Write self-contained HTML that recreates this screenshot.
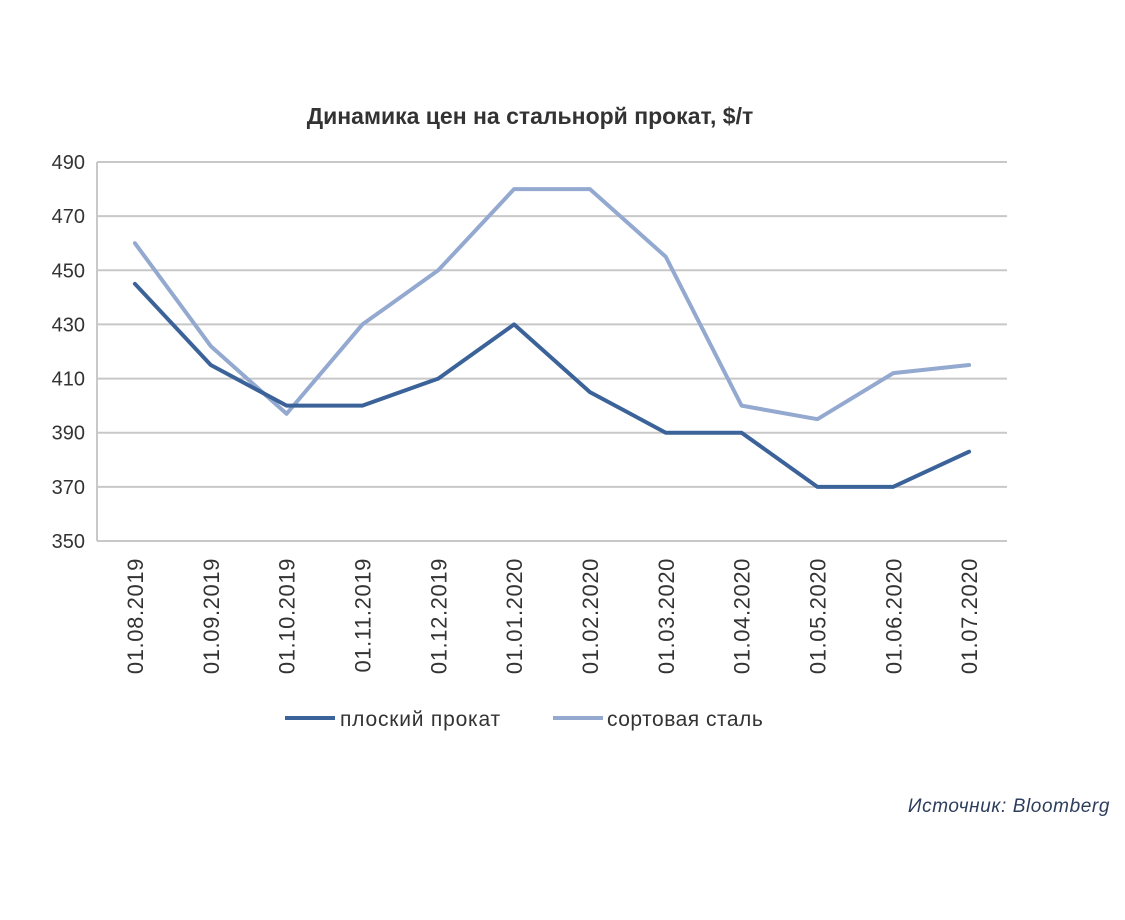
<!DOCTYPE html>
<html><head><meta charset="utf-8"><style>
html,body{margin:0;padding:0;background:#fff;}
svg text{font-family:"Liberation Sans","DejaVu Sans",sans-serif;}
</style></head><body>
<svg width="1125" height="915" viewBox="0 0 1125 915">
<text x="530" y="124" text-anchor="middle" font-size="23" font-weight="bold" fill="#333">Динамика цен на стальнорй прокат, $/т</text>
<g id="grid"></g>
<g id="xlabels"></g>
<g id="series"></g>
<g>
<line x1="285" y1="718" x2="335" y2="718" stroke="#3b6399" stroke-width="4"/>
<text x="340" y="726" font-size="21" letter-spacing="0.8" fill="#333">плоский прокат</text>
<line x1="553" y1="718" x2="603" y2="718" stroke="#93a9cf" stroke-width="4"/>
<text x="607" y="726" font-size="21" letter-spacing="0.5" fill="#333">сортовая сталь</text>
</g>
<text x="1110" y="812" text-anchor="end" font-size="19" font-style="italic" letter-spacing="0.6" fill="#2c3e5c">Источник:  Bloomberg</text>
</svg>
<script>
const categories=["01.08.2019","01.09.2019","01.10.2019","01.11.2019","01.12.2019","01.01.2020","01.02.2020","01.03.2020","01.04.2020","01.05.2020","01.06.2020","01.07.2020"];
const flatValues=[445,415,400,400,410,430,405,390,390,370,370,383];
const longValues=[460,422,397,430,450,480,480,455,400,395,412,415];
const yTicks=[350,370,390,410,430,450,470,490];
const NS="http://www.w3.org/2000/svg";
const L=97,R=1007,T=162,B=541,yMin=350,yMax=490;
const y=v=>B-(v-yMin)/(yMax-yMin)*(B-T);
const x=i=>L+(R-L)/categories.length*(i+0.5);
function mk(t,a,p){const e=document.createElementNS(NS,t);for(const k in a)e.setAttribute(k,a[k]);p.appendChild(e);return e;}
const grid=document.getElementById('grid');
yTicks.forEach(v=>{
 const l=mk('line',{x1:L,x2:R,y1:y(v),y2:y(v),stroke:'#c8c8c8','stroke-width':2},grid);
 
 
 const t=mk('text',{x:L-12,y:y(v)+7,'text-anchor':'end','font-size':20,fill:'#333'},grid);
 t.textContent=v;
 
 
});
const ax=mk('line',{x1:L,x2:L,y1:T,y2:B,stroke:'#c8c8c8','stroke-width':2},grid);


const xl=document.getElementById('xlabels');
categories.forEach((c,i)=>{
 const t=mk('text',{x:0,y:0,'text-anchor':'end','font-size':22,'letter-spacing':0.6,fill:'#333',transform:`translate(${x(i)+8},558) rotate(-90)`},xl);
 t.textContent=c;
 
 
});
const sg=document.getElementById('series');
[[longValues,'#93a9cf','series-long-steel'],[flatValues,'#3b6399','series-flat-steel']].forEach(([vals,col,name])=>{
 const p=mk('polyline',{points:vals.map((v,i)=>x(i)+','+y(v)).join(' '),fill:'none',stroke:col,'stroke-width':4,'stroke-linejoin':'round','stroke-linecap':'round'},sg);
 
 
});
</script>
</body></html>
